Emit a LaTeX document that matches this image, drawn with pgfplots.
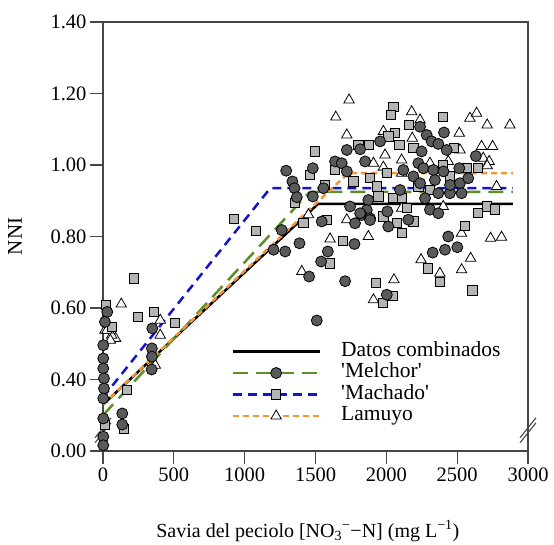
\documentclass[border=0pt]{standalone}
\usepackage{pgfplots}
\pgfplotsset{compat=1.18}
\usepackage{pgfplotstable}
\usepackage{fontspec}
\setmainfont{Liberation Serif}
\definecolor{cgreen}{RGB}{94,142,42}
\definecolor{cblue}{RGB}{20,20,205}
\definecolor{corange}{RGB}{242,150,52}
\definecolor{circfill}{RGB}{90,90,90}
\definecolor{sqfill}{RGB}{180,180,180}
\definecolor{axisgray}{RGB}{70,70,70}

% Melchor (circles)
\pgfplotstableread{
x y
30 0.589
14 0.561
2 0.496
2 0.459
2 0.431
7 0.403
7 0.375
2 0.347
2 0.291
2 0.240
2 0.216
136 0.305
136 0.274
348 0.543
345 0.487
345 0.464
343 0.428
1262 0.818
1204 0.763
1286 0.758
1387 0.781
1293 0.984
1337 0.954
1352 0.935
1368 0.910
1481 0.991
1481 0.912
1556 0.935
1638 1.010
1685 1.005
1721 1.042
1721 0.982
1815 1.044
1956 1.066
1850 1.010
1744 0.884
1873 0.902
1862 0.874
1826 0.860
1815 0.865
1885 0.851
1885 0.846
1779 0.837
2007 0.870
1544 0.842
1587 0.758
1540 0.730
1775 0.779
1455 0.688
1709 0.675
1509 0.565
2003 0.637
2238 1.107
2285 1.084
2320 1.066
2367 1.059
2407 1.091
2426 1.042
2249 1.038
2226 1.005
2261 0.991
2332 0.986
2403 0.982
2191 0.968
2238 0.949
2343 0.958
2449 0.921
2450 0.944
2520 0.949
2515 0.991
2578 0.963
2632 1.025
2531 0.921
2367 0.921
2308 0.875
2367 0.865
2273 0.907
2155 0.847
2437 0.800
2414 0.763
2327 0.755
2501 0.770
2097 0.930
2120 0.986
2014 0.828
}\circdata

% Machado (squares)
\pgfplotstableread{
x y
19 0.608
65 0.547
216 0.683
246 0.576
360 0.590
510 0.559
170 0.370
12 0.272
145 0.262
926 0.849
1079 0.815
1356 0.895
2050 1.163
2031 1.140
2397 1.135
2162 1.112
2061 1.089
2014 1.080
1497 1.038
1803 1.056
1878 1.056
2092 1.056
2191 1.047
2477 1.047
1638 0.986
1462 0.972
1768 0.954
1885 0.963
2003 0.977
1568 0.944
1932 0.940
2050 0.907
2108 0.907
1944 0.912
2308 0.931
2402 1.000
2567 0.991
2649 0.991
1415 0.837
1580 0.847
2073 0.837
2191 0.842
2108 0.809
2144 0.879
1692 0.788
1603 0.725
1979 0.856
2555 0.830
2649 0.865
2712 0.884
2766 0.876
2292 0.711
2378 0.674
2607 0.649
1927 0.670
2045 0.634
1974 0.615
2226 0.940
2449 0.968
}\sqdata

% Lamuyo (triangles)
\pgfplotstableread{
x y
129 0.611
14 0.538
89 0.515
61 0.524
28 0.538
52 0.510
404 0.566
404 0.524
369 0.440
1737 1.182
1643 1.134
2179 1.149
2238 1.126
2590 1.131
2637 1.145
2712 1.112
2872 1.112
1721 1.084
1979 1.094
2515 1.089
2183 1.075
1991 1.028
2108 1.014
1909 1.005
2520 1.042
2672 1.052
2750 1.052
2684 1.019
2726 1.010
2712 0.998
1979 0.994
2108 0.977
2437 1.010
2308 1.005
1721 0.847
1603 0.793
1873 0.800
1450 0.861
1403 0.702
1909 0.623
2054 0.679
2245 0.735
2378 0.697
2531 0.707
2595 0.739
2531 0.809
2736 0.795
2813 0.798
2778 0.940
2402 0.884
2108 0.879
}\tridata

\pgfplotsset{
  mylegend/.style={legend image code/.code={
    \draw[mark repeat=2,mark phase=2,##1] plot coordinates {(0pt,0pt) (43.5pt,0pt) (87pt,0pt)};
    \path[draw=none,fill=none] (0pt,0pt) (108pt,0pt);
  }},
  circmark/.style={mark=*, mark size=5.5pt, mark options={solid, draw=black, fill=circfill, line width=0.8pt}},
  sqmark/.style={mark=square*, mark size=4.6pt, mark options={solid, draw=black, fill=sqfill, line width=0.8pt}},
  trimark/.style={mark=triangle*, mark size=6pt, mark options={solid, draw=black, fill=white, line width=0.8pt}},
}

\begin{document}
\begin{tikzpicture}
\useasboundingbox (-103pt,-94pt) rectangle (451pt,451pt);
\begin{axis}[
  scale only axis, width=425pt, height=429pt,
  at={(0pt,0pt)}, anchor=south west,
  xmin=0, xmax=3000, ymin=0.2, ymax=1.4,
  xtick={0,500,1000,1500,2000,2500,3000},
  xticklabels={0,500,1000,1500,2000,2500,3000},
  ytick={0.2,0.4,0.6,0.8,1.0,1.2,1.4},
  yticklabels={0.00,0.40,0.60,0.80,1.00,1.20,1.40},
  tick align=outside, xtick pos=left, ytick pos=left,
  major tick length=13pt,
  axis line style={draw=axisgray, line width=1.3pt},
  every tick/.style={draw=axisgray, line width=1.3pt},
  tick label style={font=\rmfamily\fontsize{20.5}{24}\selectfont},
  label style={font=\rmfamily\fontsize{20}{24}\selectfont},
  xlabel={Savia del peciolo [NO\textsubscript{3}\textsuperscript{−}−N] (mg L\textsuperscript{−1})},
  ylabel={NNI},
  xlabel style={at={(axis description cs:0.482,-0.186)}, anchor=center},
  ylabel style={at={(axis description cs:-0.207,0.5)}, anchor=center, font=\rmfamily\fontsize{21}{24}\selectfont},
  clip=false,
  mylegend,
  legend cell align=left,
  legend style={at={(axis cs:905,0.509)}, anchor=north west, draw=none, fill=none,
    font=\rmfamily\fontsize{21.5}{24}\selectfont, row sep=0pt, inner sep=0pt,
    nodes={text height=15pt, text depth=5.5pt, inner sep=0.5pt}},
]
\addlegendimage{black, line width=2.5pt}
\addlegendentry{Datos combinados}
\addlegendimage{cgreen, line width=2.5pt, dash pattern=on 15pt off 8pt, circmark}
\addlegendentry{\textquotesingle Melchor\textquotesingle}
\addlegendimage{cblue, line width=2.5pt, dash pattern=on 9pt off 6pt, sqmark}
\addlegendentry{\textquotesingle Machado\textquotesingle}
\addlegendimage{corange, line width=2.5pt, dash pattern=on 6pt off 4pt, trimark}
\addlegendentry{Lamuyo}

\addplot[only marks, trimark, forget plot] table[x=x,y=y] {\tridata};
\addplot[only marks, sqmark, forget plot] table[x=x,y=y] {\sqdata};
\addplot[only marks, circmark, forget plot] table[x=x,y=y] {\circdata};

\addplot[black, line width=2.5pt, forget plot] coordinates {(0,0.33) (1518,0.891) (2894,0.891)};
\addplot[cgreen, line width=2.5pt, dash pattern=on 15pt off 8pt, forget plot] coordinates {(0,0.30) (1460,0.925) (2894,0.925)};
\addplot[cblue, line width=2.5pt, dash pattern=on 9pt off 6pt, forget plot] coordinates {(0,0.35) (1180,0.935) (2894,0.935)};
\addplot[corange, line width=2.5pt, dash pattern=on 6pt off 4pt, forget plot] coordinates {(0,0.33) (1730,0.977) (2894,0.977)};

\draw[axisgray, line width=1.1pt] ([xshift=-8pt,yshift=-10pt]axis cs:3000,0.265) -- ([xshift=8pt,yshift=10pt]axis cs:3000,0.265);
\draw[axisgray, line width=1.1pt] ([xshift=-8pt,yshift=-15pt]axis cs:3000,0.265) -- ([xshift=8pt,yshift=5pt]axis cs:3000,0.265);
\draw[axisgray, line width=1.1pt] ([xshift=-8pt,yshift=-10pt]axis cs:0,0.265) -- ([xshift=8pt,yshift=10pt]axis cs:0,0.265);
\draw[axisgray, line width=1.1pt] ([xshift=-8pt,yshift=-15pt]axis cs:0,0.265) -- ([xshift=8pt,yshift=5pt]axis cs:0,0.265);
\end{axis}
\end{tikzpicture}
\end{document}
